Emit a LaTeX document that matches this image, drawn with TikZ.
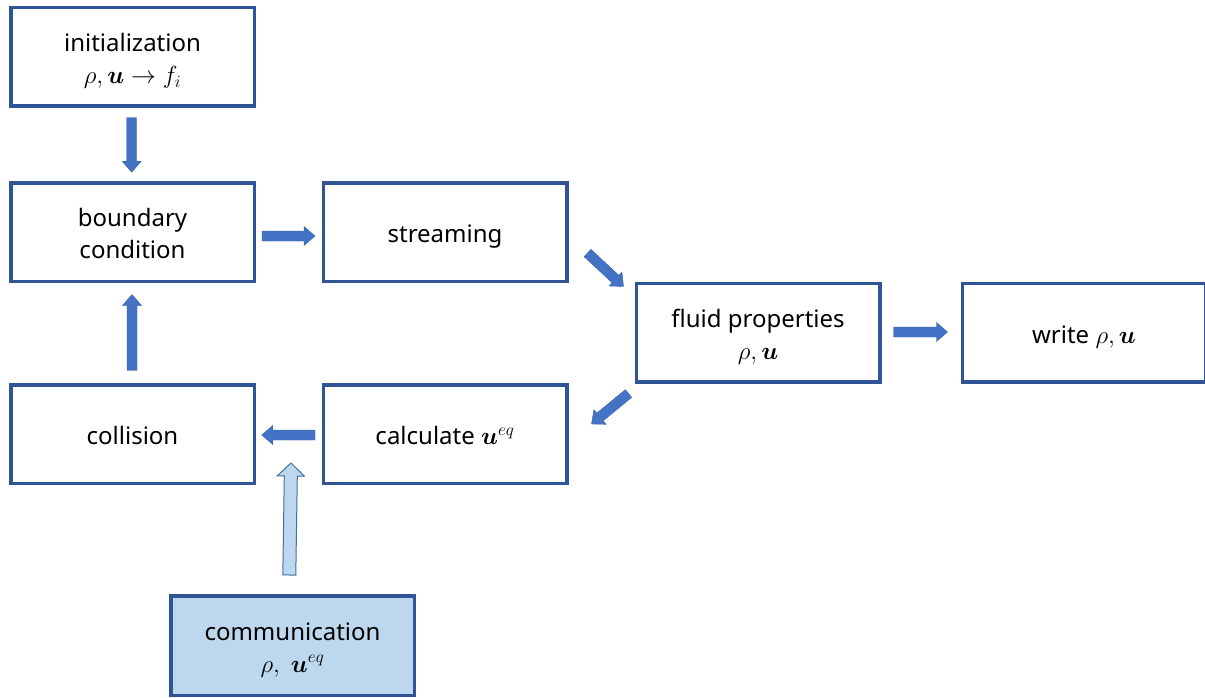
\documentclass[tikz,border=0pt]{standalone}
\usepackage{amsmath,bm}
\usepackage{fontspec}
\setmainfont{Noto Sans}
\usetikzlibrary{calc}

\definecolor{boxline}{HTML}{2F5597}
\definecolor{arrowfill}{HTML}{4472C4}
\definecolor{commfill}{HTML}{BDD7EE}
\definecolor{commline}{HTML}{41719C}

% fixed line box so every text line is centred the same way
\newcommand{\linebox}{\rule[-5pt]{0pt}{31pt}}
% formulas set a little larger than the running text
\newcommand{\formula}[1]{{\fontsize{26.5}{32}\selectfont$#1$}}

% Block arrow from #2 to #3: #4 half shaft width, #5 half head width, #6 head length
\newcommand{\blockarrow}[6][solidarrow]{%
  \path ($(#3)!#6!(#2)$) coordinate (hb);
  \path[#1] ($(#2)!#4!90:(#3)$) -- ($(hb)!#4!-90:(#2)$) -- ($(hb)!#5!-90:(#2)$)
    -- (#3) -- ($(hb)!#5!90:(#2)$) -- ($(hb)!#4!90:(#2)$)
    -- ($(#2)!#4!-90:(#3)$) -- cycle;
}

\tikzset{
  stage/.style={draw=boxline, line width=3.5pt, fill=white,
    minimum width=243.5pt, minimum height=98.5pt, inner sep=0pt,
    align=center, font=\fontsize{24}{32}\selectfont},
  commstage/.style={stage, fill=commfill, minimum height=99.5pt},
  solidarrow/.style={fill=arrowfill, draw=arrowfill!85!black, line width=0.4pt},
  lightarrow/.style={fill=commfill, draw=commline, line width=1pt},
}

\begin{document}
\begin{tikzpicture}[x=1pt, y=-1pt]
\useasboundingbox (0,0) rectangle (1205,698);
\clip (0,0) rectangle (1205,698);

% process stages
\node[stage] (init)   at (132.5,57)    {\linebox initialization\\\linebox\formula{\rho,\bm{u}\rightarrow f_i}};
\node[stage] (bc)     at (132.5,232)   {\linebox boundary\\\linebox condition};
\node[stage] (stream) at (445,232)     {\linebox streaming};
\node[stage] (fluid)  at (758,332.5)   {\linebox fluid properties\\\linebox\formula{\rho,\bm{u}}};
\node[stage] (write)  at (1084,332.5)  {\linebox write \formula{\rho,\bm{u}}};
\node[stage] (coll)   at (132.5,434)   {\linebox collision};
\node[stage] (calc)   at (445,434)     {\linebox calculate \formula{\bm{u}^{eq}}};
\node[commstage] (comm) at (292.5,645.5) {\linebox communication\\\linebox\formula{\rho,\ \bm{u}^{eq}}};

% arrow end points
\coordinate (a1s) at ($(init.south)+(-0.8,9.75)$);
\coordinate (a1e) at ($(bc.north)+(-0.8,-8.75)$);
\coordinate (a2s) at ($(coll.north)+(-0.5,-12.75)$);
\coordinate (a2e) at ($(bc.south)+(-0.5,11.5)$);
\coordinate (a3s) at ($(bc.east)+(6,4)$);
\coordinate (a3e) at ($(stream.west)+(-6.5,4)$);
\coordinate (a4s) at ($(stream.south east)+(19,-30)$);
\coordinate (a4e) at ($(fluid.north west)+(-11,5)$);
\coordinate (a5s) at ($(fluid.south west)+(-6,10)$);
\coordinate (a5e) at ($(calc.north east)+(23,41)$);
\coordinate (a6s) at ($(fluid.east)+(12,-0.5)$);
\coordinate (a6e) at ($(write.west)+(-13,-0.5)$);
\coordinate (a7s) at ($(calc.west)+(-6.5,1)$);
\coordinate (a7e) at ($(coll.east)+(5.75,1)$);
\coordinate (a8s) at ($(comm.north)+(-3.2,-19)$);
\coordinate (a8e) at ($(coll.south east)+(35,-22)$);

% block arrows
\blockarrow{a1s}{a1e}{5pt}{9.5pt}{11pt}
\blockarrow{a2s}{a2e}{5pt}{9.5pt}{11pt}
\blockarrow{a3s}{a3e}{5pt}{9.5pt}{11pt}
\blockarrow{a4s}{a4e}{5pt}{9.5pt}{11pt}
\blockarrow{a5s}{a5e}{5pt}{9.5pt}{11pt}
\blockarrow{a6s}{a6e}{5pt}{9.5pt}{11pt}
\blockarrow{a7s}{a7e}{5pt}{9.5pt}{11pt}
\blockarrow[lightarrow]{a8s}{a8e}{6.5pt}{13.5pt}{13pt}
\end{tikzpicture}
\end{document}
